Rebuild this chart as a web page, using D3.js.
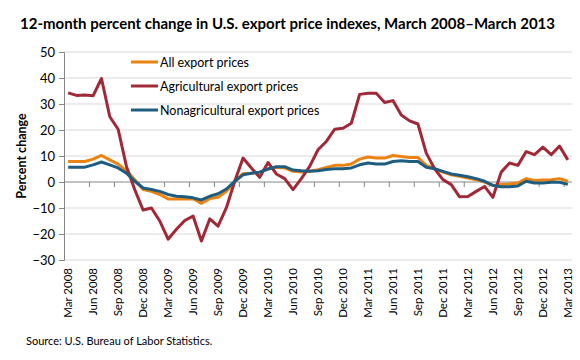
<!DOCTYPE html>
<html><head><meta charset="utf-8">
<script src="https://cdn.jsdelivr.net/npm/d3@7"></script>
<style>body{margin:0;background:#fff}svg{display:block}text{font-family:Lato,"Open Sans",sans-serif}</style>
</head><body><svg id="c" width="580" height="360"></svg>
<script>
const months = ["Mar 2008","Apr 2008","May 2008","Jun 2008","Jul 2008","Aug 2008","Sep 2008","Oct 2008","Nov 2008","Dec 2008","Jan 2009","Feb 2009",
"Mar 2009","Apr 2009","May 2009","Jun 2009","Jul 2009","Aug 2009","Sep 2009","Oct 2009","Nov 2009","Dec 2009","Jan 2010","Feb 2010",
"Mar 2010","Apr 2010","May 2010","Jun 2010","Jul 2010","Aug 2010","Sep 2010","Oct 2010","Nov 2010","Dec 2010","Jan 2011","Feb 2011",
"Mar 2011","Apr 2011","May 2011","Jun 2011","Jul 2011","Aug 2011","Sep 2011","Oct 2011","Nov 2011","Dec 2011","Jan 2012","Feb 2012",
"Mar 2012","Apr 2012","May 2012","Jun 2012","Jul 2012","Aug 2012","Sep 2012","Oct 2012","Nov 2012","Dec 2012","Jan 2013","Feb 2013","Mar 2013"];
const allExport = [7.9,7.9,7.9,8.8,10.2,8.5,6.9,4.3,0.9,-2.9,-3.6,-4.8,-6.5,-6.5,-6.5,
 -6.4,-8.2,-6.4,-5.9,-3.6,0,3.2,3.4,3.8,5.0,5.7,5.4,4.1,3.8,4.1,
 4.7,5.6,6.4,6.4,6.9,8.8,9.6,9.2,9.2,10.2,9.8,9.4,9.4,6.4,5.1,
 3.8,2.8,2.2,1.5,0.9,0,-1.3,-1.0,-0.8,-0.4,1.3,0.6,0.8,0.9,1.3,0.3];
const agricultural = [34.3,33.3,33.5,33.2,39.8,25.1,20.3,6.0,-3.0,-10.8,-10.0,-15.0,-22.0,-18.2,-14.8,
 -13.1,-22.7,-14.2,-17.0,-9.9,0.3,9.2,5.4,1.8,7.5,3.1,1.3,-2.9,1.3,6.0,
 12.4,15.6,20.3,20.7,22.6,33.7,34.1,34.1,30.6,31.3,25.8,23.5,22.3,11.1,5.1,
 0.9,-1.0,-5.7,-5.6,-3.6,-1.7,-5.9,3.8,7.3,6.4,11.7,10.5,13.4,10.5,13.8,8.5];
const nonAgricultural = [5.7,5.7,5.7,6.6,7.7,6.6,5.4,3.4,0.3,-2.3,-2.9,-3.6,-4.8,-5.5,-5.7,
 -6.1,-6.9,-5.5,-4.5,-2.7,0.3,2.8,3.4,3.8,5.0,5.9,5.9,4.6,4.3,4.1,
 4.3,4.8,5.1,5.1,5.4,6.6,7.3,6.9,6.9,7.9,8.2,7.9,7.9,5.7,5.1,
 4.1,3.1,2.6,2.0,1.3,0.3,-1.3,-1.8,-1.8,-1.5,0.3,-0.4,-0.4,-0.1,-0.1,-0.9];
const yTicks = [-30,-20,-10,0,10,20,30,40,50];
const xTickLabels = ["Mar 2008","Jun 2008","Sep 2008","Dec 2008","Mar 2009","Jun 2009","Sep 2009","Dec 2009","Mar 2010","Jun 2010","Sep 2010","Dec 2010","Mar 2011","Jun 2011","Sep 2011","Dec 2011","Mar 2012","Jun 2012","Sep 2012","Dec 2012","Mar 2013"];
const seriesNames = ["All export  prices","Agricultural export prices","Nonagricultural export prices"];
const seriesColors = ["#EC820F","#A12836","#1F5D80"];

const svg = d3.select("#c");
const L = 64, R = 572, T = 52, B = 260;
const x = d3.scaleBand().domain(months).range([L, R]).padding(0);
const y = d3.scaleLinear().domain([-30, 50]).range([B, T]);
const cx = m => x(m) + x.bandwidth()/2;

// gridlines
svg.append("g").selectAll("line").data(yTicks.filter(v => v !== 0)).join("line")
  .attr("x1", L).attr("x2", R).attr("y1", d => y(d)).attr("y2", d => y(d))
  .attr("stroke", "#D9D9D9").attr("stroke-width", 1);

// y axis
const ya = svg.append("g").attr("transform", `translate(${L},0)`)
  .call(d3.axisLeft(y).tickValues(yTicks).tickSize(5).tickPadding(4));
ya.select(".domain").attr("stroke", "#868686");
ya.selectAll(".tick line").attr("stroke", "#868686");
ya.selectAll("text").attr("font-size", 13).attr("fill", "#000").style("font-family", "Lato");

// x axis at zero
const tickMonths = months.filter((m, i) => i % 3 === 0);
const xa = svg.append("g").attr("transform", `translate(0,${y(0)})`);
xa.append("line").attr("x1", L).attr("x2", R).attr("stroke", "#868686");
xa.selectAll("line.t").data(tickMonths).join("line").attr("class","t")
  .attr("x1", d => x(d) + 0.5).attr("x2", d => x(d) + 0.5).attr("y1", 0).attr("y2", 5)
  .attr("stroke", "#868686");

// x labels
svg.append("g").selectAll("text").data(xTickLabels).join("text")
  .attr("transform", d => `translate(${cx(d) + 4},268) rotate(-90)`)
  .attr("text-anchor", "end").attr("font-size", 11.5).attr("fill", "#000")
  .text(d => d);

// lines
const line = d3.line().x((d, i) => cx(months[i])).y(d => y(d));
[allExport, agricultural, nonAgricultural].forEach((s, k) => {
  svg.append("path").datum(s).attr("d", line).attr("fill", "none")
    .attr("stroke", seriesColors[k]).attr("stroke-width", 3).attr("stroke-linejoin", "round");
});

// legend
const lg = svg.append("g");
seriesNames.forEach((n, k) => {
  const yy = 62 + k * 24;
  lg.append("line").attr("x1", 131).attr("x2", 158).attr("y1", yy).attr("y2", yy)
    .attr("stroke", seriesColors[k]).attr("stroke-width", 3);
  lg.append("text").attr("x", 160).attr("y", yy + 4.5).attr("font-size", 12.5).text(n);
});

// titles
svg.append("text").attr("x", 20).attr("y", 29).attr("font-size", 15).attr("font-weight", "bold")
  .text("12-month percent change in U.S. export price indexes, March 2008\u2013March 2013");
svg.append("text").attr("transform", "translate(26,156) rotate(-90)").attr("text-anchor", "middle")
  .attr("font-size", 12.5).attr("font-weight", "bold").text("Percent change");
svg.append("text").attr("x", 26).attr("y", 345).attr("font-size", 11).text("Source: U.S. Bureau of Labor Statistics.");
</script></body></html>
